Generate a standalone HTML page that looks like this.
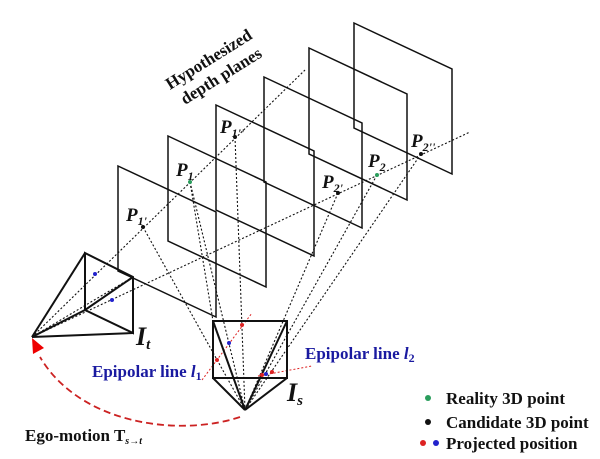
<!DOCTYPE html>
<html><head><meta charset="utf-8"><style>
html,body{margin:0;padding:0;background:#fff;}
svg{display:block;}
text{font-family:"Liberation Serif",serif;font-weight:bold;}
</style></head><body>
<svg width="600" height="459" viewBox="0 0 600 459" xmlns="http://www.w3.org/2000/svg">
<g fill="none" stroke="#111" stroke-width="1.5">
<path d="M354,23 L452,69 L452,174 L354,128 Z"/>
<path d="M309,48 L407,94 L407,200 L309,154 Z"/>
<path d="M264,77 L362,123 L362,228 L264,182 Z"/>
<path d="M216,105 L314,151 L314,256 L216,210 Z"/>
<path d="M168,136 L266,182 L266,287 L168,241 Z"/>
<path d="M118,166 L216,212 L216,317 L118,271 Z"/>
</g>
<g fill="none" stroke="#111" stroke-width="1.1" stroke-dasharray="2,2">
<line x1="32" y1="337" x2="305" y2="70"/>
<line x1="32" y1="337" x2="470" y2="132"/>
<line x1="143" y1="227" x2="245" y2="410"/>
<line x1="190" y1="182" x2="245" y2="410"/>
<line x1="235" y1="137" x2="245" y2="410"/>
<line x1="338" y1="193" x2="245" y2="410"/>
<line x1="377" y1="175" x2="245" y2="410"/>
<line x1="421" y1="154" x2="245" y2="410"/>
<line x1="32" y1="337" x2="85" y2="253"/>
<line x1="32" y1="337" x2="133" y2="277"/>
<line x1="190" y1="182" x2="213" y2="321"/>
</g>
<g fill="none" stroke="#d22" stroke-width="1" stroke-dasharray="2,2">
<line x1="202" y1="380" x2="252" y2="313"/>
<line x1="258" y1="376" x2="312" y2="366"/>
</g>
<g fill="none" stroke="#111" stroke-width="2">
<path d="M85,253 L133,277 L133,333 L85,310 Z"/>
<line x1="32" y1="337" x2="85" y2="253"/>
<line x1="32" y1="337" x2="133" y2="333"/>
<line x1="32" y1="337" x2="85" y2="310"/>
<line x1="85" y1="310" x2="133" y2="277"/>
<path d="M213,321 L287,321 L287,378 L213,378 Z"/>
<line x1="245" y1="410" x2="213" y2="378"/>
<line x1="245" y1="410" x2="287" y2="378"/>
<line x1="245" y1="410" x2="213" y2="321"/>
<line x1="245" y1="410" x2="287" y2="321"/>
</g>
<path d="M240,417 C180,437 80,425 40,357" fill="none" stroke="#c22" stroke-width="1.8" stroke-dasharray="7,4"/>
<polygon points="32,338 44,348 33,354" fill="#e00"/>
<g>
<circle cx="143" cy="227" r="2" fill="#111"/>
<circle cx="235" cy="137" r="2" fill="#111"/>
<circle cx="338" cy="193" r="2" fill="#111"/>
<circle cx="421" cy="154" r="2" fill="#111"/>
<circle cx="190" cy="182" r="2" fill="#2a9d5c"/>
<circle cx="377" cy="175" r="2" fill="#2a9d5c"/>
<circle cx="95" cy="274" r="2" fill="#22c"/>
<circle cx="112" cy="300" r="2" fill="#22c"/>
<circle cx="217" cy="360" r="2" fill="#d22"/>
<circle cx="242" cy="325" r="2" fill="#d22"/>
<circle cx="229" cy="343" r="2" fill="#22c"/>
<circle cx="262" cy="375" r="2" fill="#d22"/>
<circle cx="272" cy="372" r="2" fill="#d22"/>
<circle cx="266" cy="374" r="2" fill="#22c"/>
</g>
<g font-style="italic" font-size="19" fill="#111">
<text x="126" y="221">P<tspan font-size="12" dy="4">1'</tspan></text>
<text x="176" y="176">P<tspan font-size="12" dy="4">1</tspan></text>
<text x="220" y="133">P<tspan font-size="12" dy="4">1''</tspan></text>
<text x="322" y="188">P<tspan font-size="12" dy="4">2'</tspan></text>
<text x="368" y="167">P<tspan font-size="12" dy="4">2</tspan></text>
<text x="411" y="147">P<tspan font-size="12" dy="4">2''</tspan></text>
<text x="136" y="345" font-size="26">I<tspan font-size="15" dy="4">t</tspan></text>
<text x="287" y="401" font-size="26">I<tspan font-size="15" dy="4">s</tspan></text>
</g>
<g font-size="17" fill="#111">
<text transform="translate(170,90) rotate(-32)">Hypothesized</text>
<text transform="translate(185,105) rotate(-32)">depth planes</text>
</g>
<text x="92" y="377" font-size="17" fill="#1a1aa0">Epipolar line <tspan font-style="italic">l</tspan><tspan font-size="12" dy="3">1</tspan></text>
<text x="305" y="359" font-size="17" fill="#1a1aa0">Epipolar line <tspan font-style="italic">l</tspan><tspan font-size="12" dy="3">2</tspan></text>
<text x="25" y="441" font-size="17" fill="#111">Ego-motion T<tspan font-size="10" font-style="italic" dy="3">s→t</tspan></text>
<circle cx="428" cy="398" r="3" fill="#2a9d5c"/>
<circle cx="428" cy="422" r="3" fill="#111"/>
<circle cx="423" cy="443" r="3" fill="#d22"/>
<circle cx="436" cy="443" r="3" fill="#22c"/>
<g font-size="17" fill="#111">
<text x="446" y="404">Reality 3D point</text>
<text x="446" y="428">Candidate 3D point</text>
<text x="446" y="449">Projected position</text>
</g>
</svg>
</body></html>
